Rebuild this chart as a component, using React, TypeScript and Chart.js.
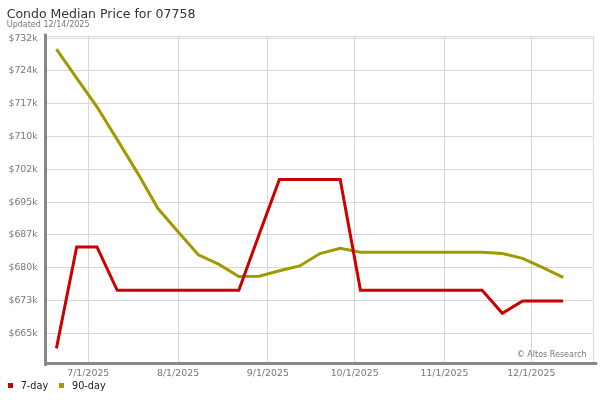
import React, { useEffect, useRef } from 'react';
import { Chart, registerables } from 'chart.js';

Chart.register(...registerables);

// ---- Data ----
const titleText = 'Condo Median Price for 07758';
const subtitleText = 'Updated 12/14/2025';
const creditText = '\u00A9 Altos Research';

// weekly observation dates
const weekDates = [
  '2025-06-20', '2025-06-27', '2025-07-04', '2025-07-11', '2025-07-18', '2025-07-25',
  '2025-08-01', '2025-08-08', '2025-08-15', '2025-08-22', '2025-08-29', '2025-09-05',
  '2025-09-12', '2025-09-19', '2025-09-26', '2025-10-03', '2025-10-10', '2025-10-17',
  '2025-10-24', '2025-10-31', '2025-11-07', '2025-11-14', '2025-11-21', '2025-11-28',
  '2025-12-05', '2025-12-12',
];

// median price in $ thousands
const sevenDay = [
  662.3, 685.2, 685.2, 675.4, 675.4, 675.4, 675.4, 675.4, 675.4, 675.4, 688.0, 700.4,
  700.4, 700.4, 700.4, 675.4, 675.4, 675.4, 675.4, 675.4, 675.4, 675.4, 670.2, 673.0,
  673.0, 673.0,
];
const ninetyDay = [
  729.8, 723.3, 716.8, 709.4, 701.9, 693.9, 688.6, 683.4, 681.3, 678.5, 678.6, 679.8,
  680.9, 683.7, 684.9, 684.0, 684.0, 684.0, 684.0, 684.0, 684.0, 684.0, 683.7, 682.6,
  680.5, 678.3,
];

const seriesNames = ['7-day', '90-day'];
const seriesColors = ['#cc0000', '#a09a00'];

const xTickDates = ['2025-07-01', '2025-08-01', '2025-09-01', '2025-10-01', '2025-11-01', '2025-12-01'];
const xTickLabels = ['7/1/2025', '8/1/2025', '9/1/2025', '10/1/2025', '11/1/2025', '12/1/2025'];

const yTickValues = [665.7, 673.1, 680.5, 687.9, 695.3, 702.7, 710.1, 717.5, 724.9, 732.3];
const yTickLabels = ['$665k', '$673k', '$680k', '$687k', '$695k', '$702k', '$710k', '$717k', '$724k', '$732k'];

const xRange = ['2025-06-16', '2025-12-22'];
const yRange = [659.0, 732.85];

// ---- helpers ----
const ORIGIN = Date.UTC(2025, 6, 1);
function dayNum(s: string): number {
  const [y, m, d] = s.split('-').map(Number);
  return (Date.UTC(y, m - 1, d) - ORIGIN) / 86400000;
}

const FONT = 'DejaVu Sans';

const framePlugin = {
  id: 'frame',
  beforeDatasetsDraw(chart: any) {
    const { ctx, chartArea } = chart;
    ctx.save();
    ctx.strokeStyle = '#d6d6d6';
    ctx.lineWidth = 1;
    ctx.beginPath();
    ctx.moveTo(chartArea.left, Math.round(chartArea.top) + 0.5);
    ctx.lineTo(chartArea.right, Math.round(chartArea.top) + 0.5);
    ctx.moveTo(Math.round(chartArea.right) + 0.5, chartArea.top);
    ctx.lineTo(Math.round(chartArea.right) + 0.5, chartArea.bottom);
    ctx.stroke();
    ctx.restore();
  },
  afterDraw(chart: any) {
    const { ctx, chartArea } = chart;
    ctx.save();
    ctx.strokeStyle = '#888888';
    ctx.lineWidth = 3;
    ctx.beginPath();
    ctx.moveTo(chartArea.left - 0.5, chartArea.top - 2);
    ctx.lineTo(chartArea.left - 0.5, chartArea.bottom + 3);
    ctx.moveTo(chartArea.left - 2, chartArea.bottom + 0.5);
    ctx.lineTo(chartArea.right + 4.5, chartArea.bottom + 0.5);
    ctx.stroke();
    ctx.restore();
  },
};

export default function App() {
  const canvasRef = useRef<HTMLCanvasElement | null>(null);

  useEffect(() => {
    if (!canvasRef.current) return;
    const xs = weekDates.map(dayNum);
    const chart = new Chart(canvasRef.current, {
      type: 'line',
      data: {
        datasets: [sevenDay, ninetyDay].map((vals, i) => ({
          label: seriesNames[i],
          data: vals.map((v, j) => ({ x: xs[j], y: v })),
          borderColor: seriesColors[i],
          backgroundColor: seriesColors[i],
          borderWidth: 3,
          pointRadius: 0,
          tension: 0,
          fill: false,
        })),
      },
      options: {
        responsive: false,
        animation: false,
        events: [],
        layout: { padding: { left: 0, top: 35.7, right: 7.3, bottom: 17 } },
        plugins: {
          legend: { display: false },
          tooltip: { enabled: false },
          title: { display: false },
        },
        scales: {
          x: {
            type: 'linear',
            min: dayNum(xRange[0]) + 0.4,
            max: dayNum(xRange[1]) + 0.2,
            border: { display: false },
            grid: { color: '#d6d6d6', lineWidth: 1, drawTicks: false },
            afterBuildTicks: (scale: any) => {
              scale.ticks = xTickDates.map((d) => ({ value: dayNum(d) }));
            },
            afterFit: (scale: any) => {
              scale.height = 20;
            },
            ticks: {
              autoSkip: false,
              maxRotation: 0,
              padding: 5,
              color: '#777777',
              font: { family: FONT, size: 9.4 },
              callback: (_v: any, i: number) => xTickLabels[i],
            },
          },
          y: {
            type: 'linear',
            min: yRange[0],
            max: yRange[1],
            border: { display: false },
            grid: { color: '#d6d6d6', lineWidth: 1, drawTicks: false },
            afterBuildTicks: (scale: any) => {
              scale.ticks = yTickValues.map((v) => ({ value: v }));
            },
            afterFit: (scale: any) => {
              scale.width = 46;
            },
            ticks: {
              autoSkip: false,
              padding: 8.3,
              color: '#777777',
              font: { family: FONT, size: 9.4 },
              callback: (_v: any, i: number) => yTickLabels[i],
            },
          },
        },
      },
      plugins: [framePlugin],
    } as any);
    return () => chart.destroy();
  }, []);

  const abs: React.CSSProperties = { position: 'absolute', whiteSpace: 'nowrap', fontFamily: FONT };

  return (
    <div style={{ position: 'absolute', left: 0, top: 0, width: 600, height: 400, background: '#fff', overflow: 'hidden' }}>
      <canvas ref={canvasRef} width={600} height={400} style={{ display: 'block', width: 600, height: 400 }} />
      <div style={{ ...abs, left: 6.7, top: 8.4, fontSize: 12.5, lineHeight: '12.5px', color: '#333' }}>{titleText}</div>
      <div style={{ ...abs, left: 6.8, top: 20.5, fontSize: 8, lineHeight: '8px', color: '#777' }}>{subtitleText}</div>
      <div style={{ ...abs, right: 13.5, top: 350.5, fontSize: 8, lineHeight: '8px', color: '#777' }}>{creditText}</div>
      {seriesNames.map((name, i) => (
        <React.Fragment key={name}>
          <div style={{ position: 'absolute', left: i === 0 ? 8 : 59.3, top: 382.7, width: 5, height: 5, background: seriesColors[i] }} />
          <div style={{ ...abs, left: i === 0 ? 20.7 : 72, top: 381.1, fontSize: 9.7, lineHeight: '9.7px', color: '#222' }}>{name}</div>
        </React.Fragment>
      ))}
    </div>
  );
}
